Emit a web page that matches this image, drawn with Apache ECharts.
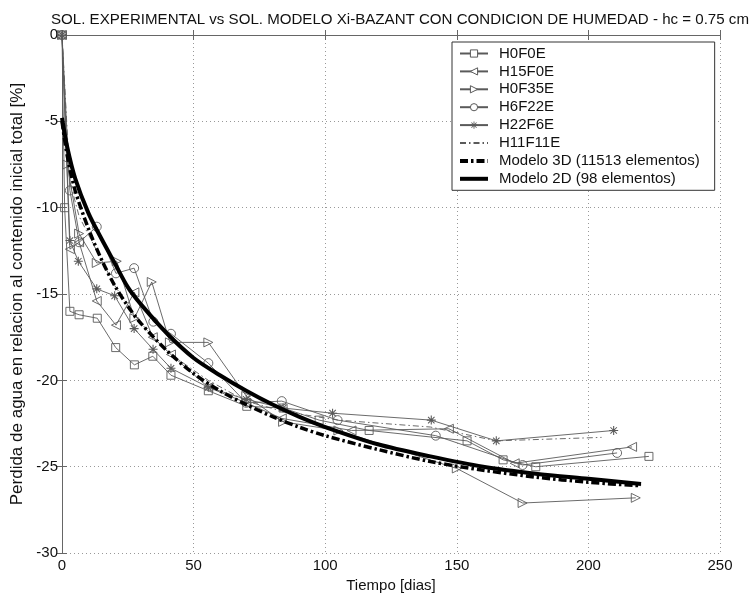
<!DOCTYPE html>
<html><head><meta charset="utf-8">
<script src="https://cdn.jsdelivr.net/npm/echarts@6/dist/echarts.min.js"></script>
<style>html,body{margin:0;padding:0;background:#fff}#c{width:755px;height:598px}</style>
</head><body><div id="c"></div>
<script>
const titleText = 'SOL. EXPERIMENTAL vs SOL. MODELO Xi-BAZANT CON CONDICION DE HUMEDAD - hc = 0.75 cm';
const xName = 'Tiempo [dias]';
const yName = 'Perdida de agua en relacion al contenido inicial total [%]';
const xTicks = [0, 50, 100, 150, 200, 250];
const yTicks = [-30, -25, -20, -15, -10, -5, 0];
const names = ['H0F0E', 'H15F0E', 'H0F35E', 'H6F22E', 'H22F6E', 'H11F11E', 'Modelo 3D (11513 elementos)', 'Modelo 2D (98 elementos)'];

const H0F0E_t = [0, 1, 3, 6.5, 13.4, 20.4, 27.5, 34.5, 41.4, 55.6, 70.2, 84, 97.7, 116.7, 153.9, 167.6, 180, 223];
const H0F0E_v = [0, -10, -16, -16.2, -16.4, -18.1, -19.1, -18.6, -19.7, -20.6, -21.5, -21.6, -22.3, -22.9, -23.5, -24.6, -25.0, -24.4];

const H15F0E_t = [0, 3, 6.5, 13.2, 20.5, 27.5, 34.5, 41.4, 55.6, 70, 83.5, 110, 147, 172, 216.6];
const H15F0E_v = [0, -12.4, -12.0, -15.4, -16.8, -14.9, -17.5, -18.5, -20.4, -21.3, -22.2, -22.9, -22.8, -24.8, -23.85];

const H0F35E_t = [0, 2, 6.5, 13.2, 20.8, 27.5, 34.1, 41, 55.6, 70, 84, 105, 150, 175, 218];
const H0F35E_v = [0, -7.5, -11.5, -13.2, -13.1, -16.4, -14.3, -17.8, -17.8, -20.9, -22.4, -22.9, -25.1, -27.1, -26.8];

const H6F22E_t = [0, 3, 6.5, 13.2, 20.5, 27.4, 34.7, 41.4, 55.6, 70, 83.5, 104.7, 142, 175, 210.9];
const H6F22E_v = [0, -9, -12, -11.1, -13.8, -13.5, -16.6, -17.3, -19.0, -21.3, -21.2, -22.3, -23.2, -24.9, -24.2];

const H22F6E_t = [0, 3, 6.2, 13.2, 20, 27.4, 34.6, 41.4, 55.6, 70, 84, 102.8, 140.3, 165, 209.6];
const H22F6E_v = [0, -11.9, -13.1, -14.7, -15.1, -17.0, -18.2, -19.3, -20.4, -21.1, -21.6, -21.9, -22.3, -23.5, -22.9];

const H11F11E_t = [0, 3, 6.5, 13.2, 20, 27.5, 34.5, 41.4, 55.6, 70, 84, 105, 140, 165, 205];
const H11F11E_v = [0, -8.5, -10.5, -12.5, -14.5, -16.2, -17.5, -18.5, -20, -21.2, -21.8, -22.3, -22.7, -23.5, -23.3];

const M3D_t = [0, 2, 5, 10, 15, 20, 25, 30, 40, 50, 60, 70, 80, 90, 100, 120, 140, 160, 180, 200, 220];
const M3D_v = [-5, -7, -9, -11.2, -13, -14.5, -15.7, -16.7, -18.3, -19.6, -20.6, -21.4, -22.1, -22.7, -23.2, -24.0, -24.7, -25.2, -25.6, -25.9, -26.1];

const M2D_t = [0, 2, 5, 10, 15, 20, 25, 30, 40, 50, 60, 70, 80, 90, 100, 120, 140, 160, 180, 200, 220];
const M2D_v = [-4.8, -6.5, -8.3, -10.3, -11.8, -13.2, -14.6, -15.6, -17.3, -18.7, -19.7, -20.6, -21.4, -22.1, -22.7, -23.7, -24.4, -25.0, -25.4, -25.7, -26.0];

function zip(t, v) { return t.map((x, i) => [x, v[i]]); }

const FONT = 'Liberation Sans, Arial, sans-serif';
const GRAY = '#5a5a5a';
const star = 'path://M-0.6,-5 L0.6,-5 L0.6,5 L-0.6,5 Z M-5,-0.6 L5,-0.6 L5,0.6 L-5,0.6 Z M-4,-3.2 L-3.2,-4 L4,3.2 L3.2,4 Z M4,-3.2 L-3.2,4 L-4,3.2 L3.2,-4 Z';
const DASH3D = [8, 3, 2.5, 3];

function expSeries(name, t, v, symbol, size, rot, extra) {
  return Object.assign({
    name: name, type: 'line', data: zip(t, v), clip: false,
    symbol: symbol, symbolSize: size, symbolRotate: rot || 0,
    showSymbol: true,
    lineStyle: { color: GRAY, width: 0.9 },
    itemStyle: { color: 'rgba(255,255,255,0)', borderColor: GRAY, borderWidth: 0.9 },
    emphasis: { disabled: true }, animation: false, z: 3
  }, extra || {});
}

const series = [
  expSeries(names[0], H0F0E_t, H0F0E_v, 'rect', 8),
  expSeries(names[1], H15F0E_t, H15F0E_v, 'triangle', 9, 90),
  expSeries(names[2], H0F35E_t, H0F35E_v, 'triangle', 9, -90),
  expSeries(names[3], H6F22E_t, H6F22E_v, 'circle', 9),
  expSeries(names[4], H22F6E_t, H22F6E_v, star, 9, 0, { itemStyle: { color: GRAY, borderWidth: 0 } }),
  expSeries(names[5], H11F11E_t, H11F11E_v, 'none', 0, 0, { lineStyle: { color: GRAY, width: 0.9, type: [6, 3, 1.5, 3] } }),
  {
    name: names[6], type: 'line', data: zip(M3D_t, M3D_v), symbol: 'none', smooth: 0.3,
    lineStyle: { color: '#000', width: 3.5, type: DASH3D }, itemStyle: { color: '#000' },
    emphasis: { disabled: true }, animation: false, z: 4
  },
  {
    name: names[7], type: 'line', data: zip(M2D_t, M2D_v), symbol: 'none', smooth: 0.3,
    lineStyle: { color: '#000', width: 4 }, itemStyle: { color: '#000' },
    emphasis: { disabled: true }, animation: false, z: 4
  }
];

const hiddenIcon = { color: 'rgba(0,0,0,0)', borderColor: 'rgba(0,0,0,0)', borderWidth: 0, opacity: 0 };
const hollowIcon = { color: '#fff', borderColor: GRAY, borderWidth: 1, opacity: 1 };
const starIcon = { color: GRAY, borderColor: GRAY, borderWidth: 0, opacity: 1 };
const legendData = names.map((n, i) => {
  const item = { name: n, itemStyle: i >= 5 ? hiddenIcon : (i === 4 ? starIcon : hollowIcon) };
  if (i === 6) item.lineStyle = { color: '#000', width: 4, type: DASH3D };
  if (i === 7) item.lineStyle = { color: '#000', width: 4, type: 'solid' };
  return item;
});

const axisLine = { show: true, lineStyle: { color: '#666', width: 1 } };
const splitLine = { show: true, lineStyle: { color: '#999', width: 1, type: [1, 3] } };

const chart = echarts.init(document.getElementById('c'), null, { renderer: 'canvas' });
chart.setOption({
  backgroundColor: '#fff',
  animation: false,
  title: {
    text: titleText, left: 395, textAlign: 'center', top: 7,
    textStyle: { fontFamily: FONT, fontSize: 15.1, fontWeight: 'normal', color: '#111' }
  },
  grid: { left: 62, top: 35, width: 658, height: 521, containLabel: false },
  legend: {
    orient: 'vertical', left: 452, top: 42,
    data: legendData,
    itemWidth: 28, itemHeight: 9, itemGap: 2.9,
    padding: [4, 15, 4, 6],
    backgroundColor: '#fff', borderColor: '#333', borderWidth: 1,
    textStyle: { fontFamily: FONT, fontSize: 15, color: '#111', padding: [0, 0, 0, 6] },
    selectedMode: false, z: 10
  },
  xAxis: [{
    type: 'value', min: 0, max: 250, interval: 50, position: 'bottom',
    name: xName, nameLocation: 'middle', nameGap: 24,
    nameTextStyle: { fontFamily: FONT, fontSize: 15, color: '#111' },
    axisLine: axisLine, axisTick: { show: true, inside: true, length: 5, lineStyle: { color: '#666' } },
    axisLabel: { fontFamily: FONT, fontSize: 15, color: '#111', margin: 5 },
    splitLine: splitLine
  }, {
    type: 'value', min: 0, max: 250, interval: 50, position: 'top',
    axisLine: axisLine, axisTick: { show: true, inside: true, length: 5, lineStyle: { color: '#666' } },
    axisLabel: { show: false }, splitLine: { show: false }
  }],
  yAxis: [{
    type: 'value', min: -30, max: 0, interval: 5, position: 'left',
    name: yName, nameLocation: 'middle', nameGap: 30, nameRotate: 90,
    nameTextStyle: { fontFamily: FONT, fontSize: 17, color: '#111' },
    axisLine: axisLine, axisTick: { show: true, inside: true, length: 5, lineStyle: { color: '#666' } },
    axisLabel: { fontFamily: FONT, fontSize: 15, color: '#111', margin: 4 },
    splitLine: splitLine
  }, {
    type: 'value', min: -30, max: 0, interval: 5, position: 'right',
    axisLine: axisLine, axisTick: { show: true, inside: true, length: 5, lineStyle: { color: '#666' } },
    axisLabel: { show: false }, splitLine: { show: false }
  }],
  series: series
});
</script>
</body></html>
